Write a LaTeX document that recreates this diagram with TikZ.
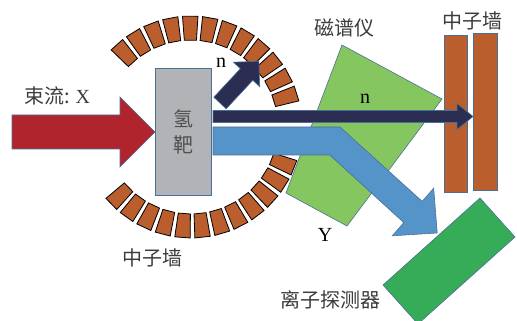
\documentclass[tikz,border=0pt]{standalone}
\usepackage{fontspec}
\setmainfont{Liberation Serif}
\newfontfamily\cjk{Noto Sans CJK SC}
\usetikzlibrary{arrows.meta}

\definecolor{brick}{RGB}{186,94,46}
\definecolor{beamred}{RGB}{176,36,46}
\definecolor{targetgrey}{RGB}{178,179,183}
\definecolor{navy}{RGB}{43,45,83}
\definecolor{ionblue}{RGB}{84,148,201}
\definecolor{magnetgreen}{RGB}{134,198,96}
\definecolor{detgreen}{RGB}{54,172,88}
\definecolor{rimblue}{RGB}{74,111,150}
\definecolor{textgrey}{RGB}{60,60,60}

\tikzset{
  seg/.style={draw=black, line width=0.8pt, fill=brick},
  rim/.style={draw=rimblue, line width=0.6pt},
  lbl/.style={text=textgrey, font=\cjk\fontsize{20}{24}\selectfont, inner sep=0pt},
  sym/.style={font=\fontsize{20}{24}\selectfont, inner sep=0pt},
}

\begin{document}
\begin{tikzpicture}[x=1pt, y=1pt]
      \useasboundingbox (0,0) rectangle (517,321);
      % shielding ring round the target
      \begin{scope}[shift={(191,194)}]
        \foreach \a in {132,121.6,...,17} {
          \draw[seg] (\a-4:87) -- (\a+4:87) -- (\a+4:111) -- (\a-4:111) -- cycle;
        }
        \foreach \a in {-136,-125.6,...,-21} {
          \draw[seg] (\a-4:87) -- (\a+4:87) -- (\a+4:111) -- (\a-4:111) -- cycle;
        }
      \end{scope}
      % spectrometer magnet
      \draw[rim, fill=magnetgreen] (342,276) -- (442,222) -- (347,95) -- (286,128) -- cycle;
      % neutron wall
      \draw[rim, fill=brick] (444,129) rectangle (467,286);
      \draw[rim, fill=brick] (473,131) rectangle (497,288);
      % hydrogen target
      \node[rim, fill=targetgrey, minimum width=56pt, minimum height=127pt, lbl, align=center, text=textgrey!90] (target) at (183,189.5) {氢\\[2pt]靶};
      % incoming beam
      \draw[rim, fill=beamred] (12,172) -- (120,172) -- (120,154) -- (155,189) -- (120,224) -- (120,206) -- (12,206) -- cycle;
      % residue Y bent by the magnet
      \draw[rim, fill=ionblue] (213,194) -- (340,194) -- (422.2,119.6) -- (433.7,132.8) -- (437.2,88) -- (392.3,85.2) -- (403.8,98.4) -- (329.7,166) -- (213,166) -- cycle;
      % neutrons
      \draw[rim, fill=navy] (213,198.5) -- (457,198.5) -- (457,191.5) -- (473,204.5) -- (457,217.5) -- (457,210.5) -- (213,210.5) -- cycle;
      \begin{scope}[shift={(220,218)}, rotate=47]
        \draw[rim, fill=navy] (0,-8.5) -- (39,-8.5) -- (39,-18) -- (57,0) -- (39,18) -- (39,8.5) -- (0,8.5) -- cycle;
      \end{scope}
      % ion detector
      \begin{scope}
        \clip (0,0) rectangle (517,321);
        \draw[rim, fill=detgreen] (383,36) -- (480,123) -- (515,84) -- (418,-3) -- cycle;
      \end{scope}
      % labels
      \node[lbl] (beam) at (57,225) {束流: {\rmfamily X}};
      \node[lbl] (ringwall) at (152,63) {中子墙};
      \node[lbl] (magnet) at (344,293) {磁谱仪};
      \node[lbl] (wall) at (472,300) {中子墙};
      \node[lbl] (detector) at (330,21) {离子探测器};
      \node[sym] (n1) at (221,258) {n};
      \node[sym] (n2) at (365,222) {n};
      \node[sym] (y) at (325,86) {Y};
    \end{tikzpicture}
\end{document}
